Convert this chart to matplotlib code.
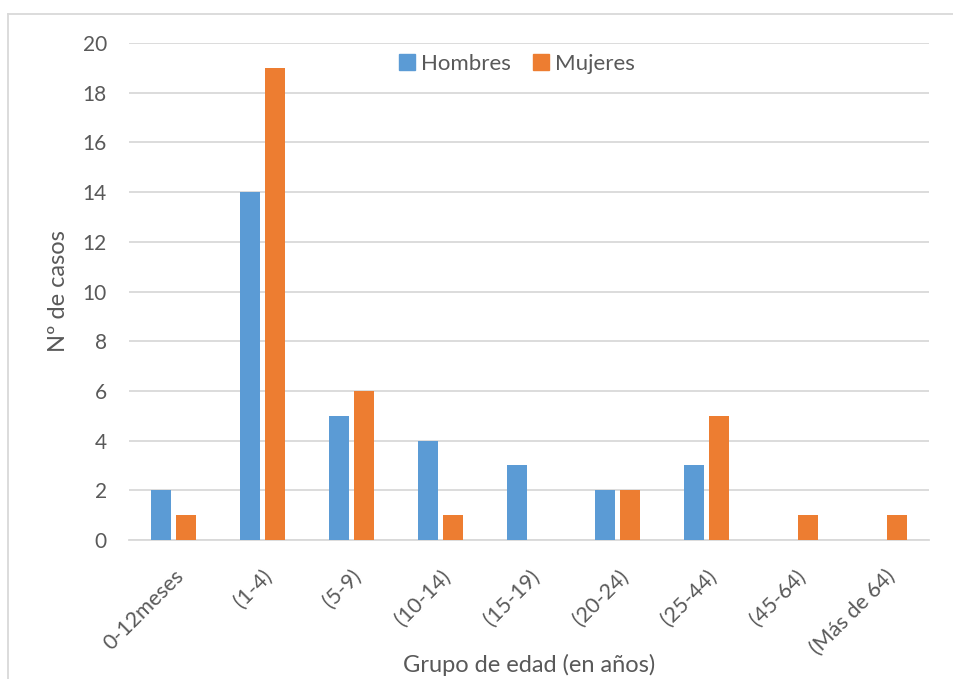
import matplotlib as mpl
import numpy as np
from matplotlib import pyplot as plt
from matplotlib.lines import Line2D

grupos = ["0-12meses", "(1-4)", "(5-9)", "(10-14)", "(15-19)",
          "(20-24)", "(25-44)", "(45-64)", "(Más de 64)"]
hombres = [2, 14, 5, 4, 3, 2, 3, 0, 0]
mujeres = [1, 19, 6, 1, 0, 2, 5, 1, 1]
yticks = [0, 2, 4, 6, 8, 10, 12, 14, 16, 18, 20]

azul = "#5B9BD5"
naranja = "#ED7D31"
gris = "#595959"

mpl.rcParams["font.family"] = ["Lato", "DejaVu Sans"]

W, H = 954, 679
fig = plt.figure(figsize=(W / 100, H / 100), dpi=100)
ax = fig.add_axes((129 / W, 1 - 540 / H, 800 / W, 497 / H))

x = np.arange(len(grupos))
bw = 0.225
off = 0.14
ax.bar(x - off, hombres, bw, color=azul, label="Hombres", zorder=3)
ax.bar(x + off, mujeres, bw, color=naranja, label="Mujeres", zorder=3)

ax.set_xlim(-0.5, len(grupos) - 0.5)
ax.set_ylim(0, 20)
ax.set_yticks(yticks)
ax.yaxis.grid(True, color="#D9D9D9", lw=1.3, zorder=0)
ax.set_axisbelow(True)
for s in ["top", "right", "left"]:
    ax.spines[s].set_visible(False)
ax.spines["bottom"].set_color("#D9D9D9")
ax.spines["bottom"].set_linewidth(1.3)
ax.tick_params(length=0, labelsize=15, colors=gris)
ax.tick_params(axis="y", pad=16)
ax.set_xticks(x)
ax.set_xticklabels(grupos, rotation=45, ha="right", rotation_mode="anchor")
ax.tick_params(axis="x", labelsize=15.5, pad=19)

ax.set_ylabel("Nº de casos", fontsize=17, color=gris)
ax.yaxis.set_label_coords(-60 / 800, 0.5)
ax.set_xlabel("Grupo de edad (en años)", fontsize=17, color=gris)
ax.xaxis.set_label_coords(0.5, -114 / 497)

handles = [Line2D([], [], marker="s", ls="", ms=11, color=azul),
           Line2D([], [], marker="s", ls="", ms=11, color=naranja)]
ax.legend(handles, ["Hombres", "Mujeres"], loc="upper center",
          bbox_to_anchor=(0.485, 1.005), ncol=2, frameon=False, fontsize=16,
          labelcolor=gris, handlelength=0.7, handletextpad=0.3,
          columnspacing=1.0, borderpad=0.1)

# chart frame
fig.add_artist(Line2D([8 / W, 8 / W], [0, 1 - 14 / H], color="#D9D9D9",
                      lw=1.3, transform=fig.transFigure))
fig.add_artist(Line2D([8 / W, 1], [1 - 14 / H, 1 - 14 / H], color="#D9D9D9",
                      lw=1.3, transform=fig.transFigure))

fig.savefig("out.png", dpi=100)
